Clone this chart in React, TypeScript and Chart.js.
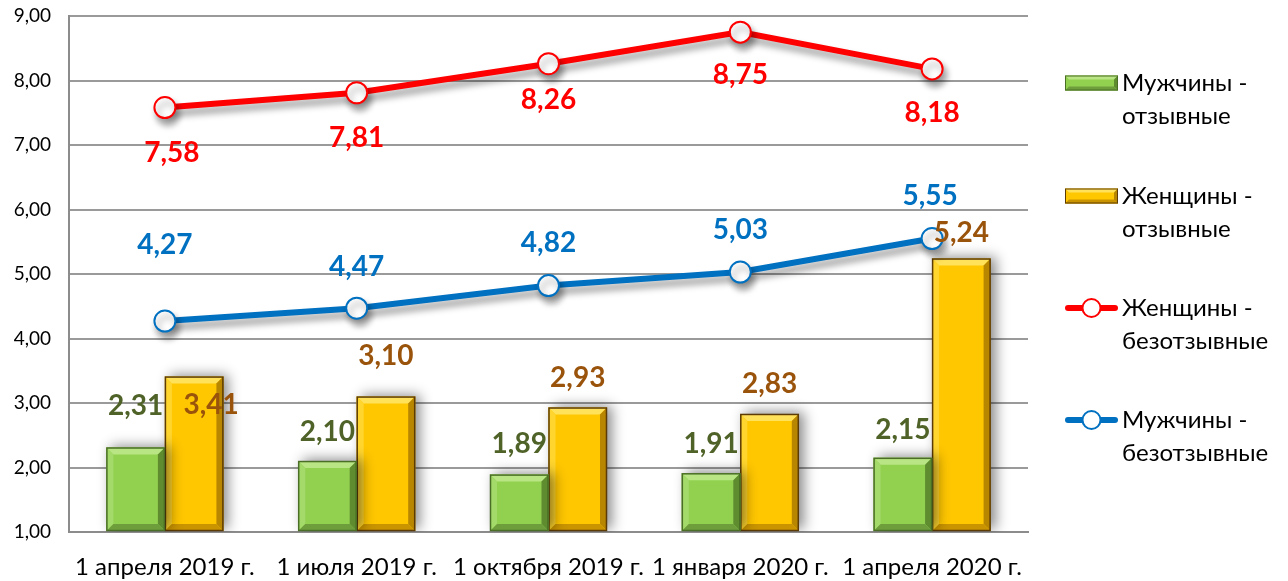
import { useEffect, useRef } from "react";
import { Chart, registerables } from "chart.js";

Chart.register(...registerables);

const categories = [
  "1 апреля 2019 г.",
  "1 июля 2019 г.",
  "1 октября 2019 г.",
  "1 января 2020 г.",
  "1 апреля 2020 г.",
];
const menRevocable = [2.31, 2.1, 1.89, 1.91, 2.15];
const womenRevocable = [3.41, 3.1, 2.93, 2.83, 5.24];
const womenIrrevocable = [7.58, 7.81, 8.26, 8.75, 8.18];
const menIrrevocable = [4.27, 4.47, 4.82, 5.03, 5.55];
const seriesNames = [
  "Мужчины - отзывные",
  "Женщины - отзывные",
  "Женщины - безотзывные",
  "Мужчины - безотзывные",
];
const yMin = 1;
const yMax = 9;
const yStep = 1;

// label offsets (px) relative to the mark's top/centre
const labelOffsets: [number, number][][] = [
  [[0, -42], [0, -29], [0, -31], [0, -29], [0, -28]],
  [[17, 28], [0, -41], [0, -30], [0, -30], [0, -26]],
  [[7, 45], [0, 45], [0, 36], [0, 43], [0, 44]],
  [[0, -76], [0, -41], [0, -43], [0, -42], [-2, -43]],
];
const labelColors = ["#4F6228", "#9A530B", "#FF0000", "#0070C0"];

const fmt = (v: number) => v.toFixed(2).replace(".", ",");
const FONT = "Lato, 'Noto Sans', sans-serif";

const bevelStyles = [
  { face: "#92D050", top: "#B9E584", left: "#A3DA69", right: "#5E8C2F", bottom: "#6E9E3C", border: "#4A6E25" },
  { face: "#FFC700", top: "#FFE15A", left: "#FFD52E", right: "#B98600", bottom: "#C99400", border: "#5C3B05" },
];

function poly(ctx: CanvasRenderingContext2D, pts: number[][], color: string) {
  ctx.beginPath();
  ctx.moveTo(pts[0][0], pts[0][1]);
  for (let i = 1; i < pts.length; i++) ctx.lineTo(pts[i][0], pts[i][1]);
  ctx.closePath();
  ctx.fillStyle = color;
  ctx.fill();
}

const effectsPlugin = {
  id: "effects",
  beforeDatasetDraw(chart: any, args: any) {
    const ctx = chart.ctx;
    ctx.save();
    const type = chart.data.datasets[args.index].type;
    if (type === "bar") {
      ctx.shadowColor = "rgba(0,0,0,0.45)";
      ctx.shadowBlur = 12;
      ctx.shadowOffsetX = 5;
      ctx.shadowOffsetY = -2;
    } else {
      ctx.shadowColor = "rgba(0,0,0,0.4)";
      ctx.shadowBlur = 7;
      ctx.shadowOffsetX = 3;
      ctx.shadowOffsetY = 6;
    }
  },
  afterDatasetDraw(chart: any, args: any) {
    const ctx = chart.ctx;
    ctx.restore();
    const ds = chart.data.datasets[args.index];
    if (ds.type !== "bar") return;
    const st = bevelStyles[args.index];
    const meta = chart.getDatasetMeta(args.index);
    const b = 7;
    meta.data.forEach((el: any) => {
      const l = el.x - el.width / 2;
      const r = el.x + el.width / 2;
      const t = Math.min(el.y, el.base);
      const bo = Math.max(el.y, el.base);
      const bb = Math.min(b, (bo - t) / 2);
      ctx.save();
      poly(ctx, [[l, t], [r, t], [r - bb, t + bb], [l + bb, t + bb]], st.top);
      poly(ctx, [[l, t], [l + bb, t + bb], [l + bb, bo - bb], [l, bo]], st.left);
      poly(ctx, [[r, t], [r, bo], [r - bb, bo - bb], [r - bb, t + bb]], st.right);
      poly(ctx, [[l, bo], [r, bo], [r - bb, bo - bb], [l + bb, bo - bb]], st.bottom);
      ctx.strokeStyle = st.border;
      ctx.lineWidth = 1.5;
      ctx.strokeRect(l + 0.5, t + 0.5, r - l - 1, bo - t - 1);
      ctx.restore();
    });
  },
  afterDraw(chart: any) {
    const ctx = chart.ctx;
    // data labels
    ctx.save();
    ctx.font = `bold 28px ${FONT}`;
    ctx.textAlign = "center";
    ctx.textBaseline = "middle";
    chart.data.datasets.forEach((ds: any, di: number) => {
      const meta = chart.getDatasetMeta(di);
      meta.data.forEach((el: any, i: number) => {
        const [dx, dy] = labelOffsets[di][i];
        ctx.fillStyle = labelColors[di];
        ctx.fillText(fmt(ds.data[i]), el.x + dx, el.y + dy);
      });
    });
    ctx.restore();

    // legend
    ctx.save();
    const mx0 = 1065;
    const mx1 = 1118;
    const tx = 1122;
    const rows = [83, 196, 308, 420];
    const lineGap = 33;
    ctx.font = `24px ${FONT}`;
    ctx.textBaseline = "middle";
    ctx.textAlign = "left";
    rows.forEach((y, k) => {
      if (k < 2) {
        const st = bevelStyles[k];
        const h = 15;
        const t = y - h / 2;
        const bo = y + h / 2;
        const bb = 4;
        poly(ctx, [[mx0, t], [mx1, t], [mx1, bo], [mx0, bo]], st.face);
        poly(ctx, [[mx0, t], [mx1, t], [mx1 - bb, t + bb], [mx0 + bb, t + bb]], st.top);
        poly(ctx, [[mx1, t], [mx1, bo], [mx1 - bb, bo - bb], [mx1 - bb, t + bb]], st.right);
        poly(ctx, [[mx0, bo], [mx1, bo], [mx1 - bb, bo - bb], [mx0 + bb, bo - bb]], st.bottom);
        ctx.strokeStyle = st.border;
        ctx.lineWidth = 1;
        ctx.strokeRect(mx0 + 0.5, t + 0.5, mx1 - mx0 - 1, h - 1);
      } else {
        const color = k === 2 ? "#FF0000" : "#0070C0";
        ctx.strokeStyle = color;
        ctx.lineWidth = 6;
        ctx.lineCap = "round";
        ctx.beginPath();
        ctx.moveTo(mx0 + 3, y);
        ctx.lineTo(mx1 - 3, y);
        ctx.stroke();
        ctx.beginPath();
        ctx.arc((mx0 + mx1) / 2, y, 9, 0, Math.PI * 2);
        ctx.fillStyle = "#FFFFFF";
        ctx.fill();
        ctx.lineWidth = 2;
        ctx.stroke();
      }
      const parts = seriesNames[k].split(" - ");
      ctx.fillStyle = "#000000";
      ctx.fillText(parts[0] + " -", tx, y);
      ctx.fillText(parts[1], tx, y + lineGap);
    });
    ctx.restore();
  },
};

export default function App() {
  const ref = useRef<HTMLCanvasElement | null>(null);
  useEffect(() => {
    if (!ref.current) return;
    const chart = new Chart(ref.current, {
      type: "bar",
      data: {
        labels: categories,
        datasets: [
          {
            type: "bar",
            label: seriesNames[0],
            data: menRevocable,
            backgroundColor: bevelStyles[0].face,
            base: yMin,
            order: 2,
            categoryPercentage: 0.61,
            barPercentage: 1.0,
          } as any,
          {
            type: "bar",
            label: seriesNames[1],
            data: womenRevocable,
            backgroundColor: bevelStyles[1].face,
            base: yMin,
            order: 2,
            categoryPercentage: 0.61,
            barPercentage: 1.0,
          } as any,
          {
            type: "line",
            label: seriesNames[2],
            data: womenIrrevocable,
            borderColor: "#FF0000",
            borderWidth: 6,
            pointRadius: 10.5,
            pointBorderWidth: 2,
            pointBackgroundColor: "#FFFFFF",
            pointBorderColor: "#FF0000",
            tension: 0,
            order: 1,
          } as any,
          {
            type: "line",
            label: seriesNames[3],
            data: menIrrevocable,
            borderColor: "#0070C0",
            borderWidth: 6,
            pointRadius: 10.5,
            pointBorderWidth: 2,
            pointBackgroundColor: "#FFFFFF",
            pointBorderColor: "#0070C0",
            tension: 0,
            order: 0,
          } as any,
        ],
      },
      options: {
        responsive: false,
        animation: false,
        layout: { padding: { top: 16, right: 260, left: 0, bottom: 0 } },
        plugins: { legend: { display: false }, tooltip: { enabled: false } },
        scales: {
          x: {
            grid: { display: false },
            border: { display: true, color: "#8C8C8C", width: 2 },
            ticks: {
              color: "#000000",
              font: { family: FONT, size: 24 },
              padding: 13,
              maxRotation: 0,
              autoSkip: false,
            },
            afterFit: (s: any) => {
              s.height = 49;
              s.paddingLeft = 0;
              s.paddingRight = 0;
            },
          },
          y: {
            min: yMin,
            max: yMax,
            ticks: {
              stepSize: yStep,
              color: "#000000",
              font: { family: FONT, size: 19 },
              padding: 18,
              callback: (v: any) => fmt(Number(v)),
            },
            grid: { color: "#9A9A9A", lineWidth: 2, drawTicks: false },
            border: { display: true, color: "#8C8C8C", width: 2 },
            afterFit: (s: any) => {
              s.width = 69;
              s.paddingTop = 0;
              s.paddingBottom = 0;
            },
          },
        },
      },
      plugins: [effectsPlugin],
    });
    return () => chart.destroy();
  }, []);
  return (
    <div style={{ position: "fixed", left: 0, top: 0, width: 1288, height: 581, background: "#FFFFFF" }}>
      <canvas ref={ref} width={1288} height={581} style={{ width: 1288, height: 581 }} />
    </div>
  );
}
